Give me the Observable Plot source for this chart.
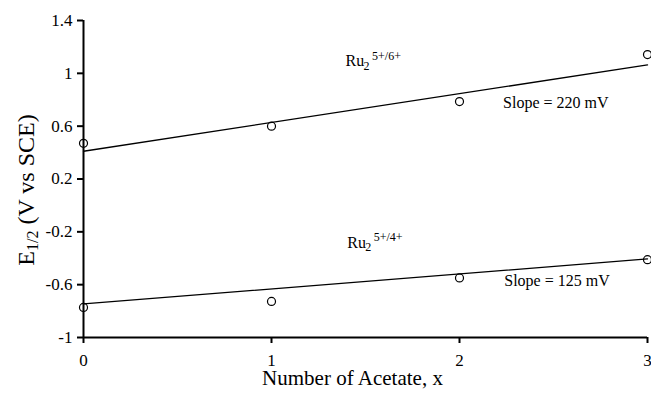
<!DOCTYPE html>
<html>
<head>
<meta charset="utf-8">
<script src="https://cdn.jsdelivr.net/npm/d3@7"></script>
<script src="https://cdn.jsdelivr.net/npm/@observablehq/plot@0.6"></script>
<style>
  html, body { margin: 0; padding: 0; background: #fff; }
  #chart svg { display: block; }
  #chart svg text { font-family: 'Liberation Serif', 'Times New Roman', serif; }
</style>
</head>
<body>
<div id="chart"></div>
<script>
// ---- data ----
const acetate = [0, 1, 2, 3];
const upperE = [0.47, 0.60, 0.786, 1.142];   // Ru2 5+/6+
const lowerE = [-0.772, -0.727, -0.549, -0.411]; // Ru2 5+/4+
const fitX = [0, 3];
const upperFit = [0.41, 1.064];
const lowerFit = [-0.746, -0.405];

const xTicks = [0, 1, 2, 3];
const yTicks = [1.4, 1, 0.6, 0.2, -0.2, -0.6, -1];
const yTickLabels = ["1.4", "1", "0.6", "0.2", "-0.2", "-0.6", "-1"];

const speciesLabels = ["Ru", "Ru"];
const speciesSub = ["2", "2"];
const speciesSup = ["5+/6+", "5+/4+"];
const speciesX = [1.394, 1.403];
const speciesY = [1.054, -0.32];

const slopeLabels = ["Slope = 220 mV", "Slope = 125 mV"];
const slopeX = [2.232, 2.238];
const slopeY = [0.739, -0.608];

const xTitle = "Number of Acetate, x";

// ---- tables built from arrays ----
const pts = acetate.flatMap((x, i) => [
  {x, y: upperE[i], s: "upper"},
  {x, y: lowerE[i], s: "lower"}
]);
const fits = fitX.flatMap((x, i) => [
  {x, y: upperFit[i], s: "upper"},
  {x, y: lowerFit[i], s: "lower"}
]);
const species = speciesLabels.map((t, i) => ({t, sub: speciesSub[i], sup: speciesSup[i], x: speciesX[i], y: speciesY[i]}));
const slopes = slopeLabels.map((t, i) => ({t, x: slopeX[i], y: slopeY[i]}));

const font = "'Liberation Serif', 'Times New Roman', serif";

const chart = Plot.plot({
  width: 651,
  height: 394,
  marginLeft: 83,
  marginRight: 4,
  marginTop: 20,
  marginBottom: 57,
  style: {fontFamily: font, fontSize: "17px", color: "#000", background: "#fff"},
  x: {domain: [0, 3]},
  y: {domain: [-1, 1.4]},
  marks: [
    Plot.axisX({ticks: xTicks, tickSize: 6, tickPadding: 10, strokeWidth: 2, label: null, tickFormat: d => String(d), fontSize: 17}),
    Plot.axisY({ticks: yTicks, tickSize: 6, tickPadding: 5, strokeWidth: 2, label: null, tickFormat: d => yTickLabels[yTicks.indexOf(d)], fontSize: 17}),
    Plot.ruleX([0], {stroke: "#000", strokeWidth: 2}),
    Plot.ruleY([-1], {stroke: "#000", strokeWidth: 2}),
    Plot.line(fits, {x: "x", y: "y", z: "s", stroke: "#000", strokeWidth: 1.3}),
    Plot.dot(pts, {x: "x", y: "y", r: 4, stroke: "#000", fill: "none", strokeWidth: 1.2}),
    Plot.text(species, {x: "x", y: "y", text: "t", textAnchor: "start", lineAnchor: "bottom", fontSize: 16, fill: "#000"}),
    Plot.text(species, {x: "x", y: "y", text: "sub", textAnchor: "start", lineAnchor: "bottom", fontSize: 12, dx: 18, dy: 3.5, fill: "#000"}),
    Plot.text(species, {x: "x", y: "y", text: "sup", textAnchor: "start", lineAnchor: "bottom", fontSize: 12, dx: 26.5, dy: -6.5, fill: "#000"}),
    Plot.text(slopes, {x: "x", y: "y", text: "t", textAnchor: "start", lineAnchor: "bottom", fontSize: 16, fill: "#000"}),
    Plot.text([xTitle], {frameAnchor: "bottom", text: d => d, lineAnchor: "bottom", dx: -13, dy: 47, fontSize: 21, fill: "#000"})
  ]
});

// y-axis title with subscript
const svg = d3.select(chart);
const yt = svg.append("text")
  .attr("transform", `translate(34,190) rotate(-90)`)
  .attr("text-anchor", "middle")
  .attr("font-family", font)
  .attr("font-size", 24)
  .attr("fill", "#000");
yt.append("tspan").text("E");
yt.append("tspan").attr("font-size", 16).attr("dy", 4).text("1/2");
yt.append("tspan").attr("dy", -4).text(" (V vs SCE)");

document.getElementById("chart").appendChild(chart);
</script>
</body>
</html>
